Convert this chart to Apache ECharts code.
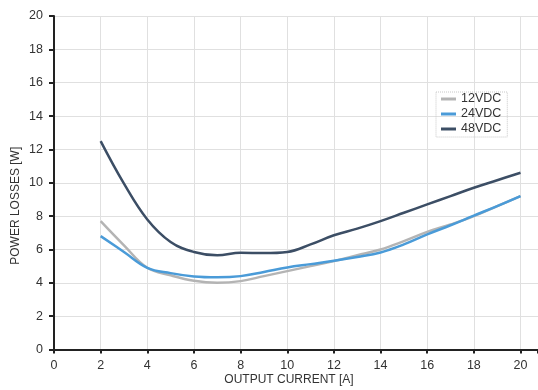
<!DOCTYPE html>
<html>
<head>
<meta charset="utf-8">
<script src="https://cdn.jsdelivr.net/npm/echarts@6/dist/echarts.min.js"></script>
<style>
  html, body { margin: 0; padding: 0; background: #fff; }
  #chart { width: 538px; height: 390px; }
</style>
</head>
<body>
<div id="chart"></div>
<script>
// Output current [A] at which the losses were measured
const current = [2, 3, 4, 5, 6, 7, 8, 9, 10, 11, 12, 13, 14, 15, 16, 17, 18, 19, 20];

// Power losses [W] per input voltage
const loss12 = [7.7, 6.25, 4.9, 4.45, 4.12, 4.0, 4.1, 4.4, 4.7, 5.0, 5.3, 5.65, 6.0, 6.5, 7.05, 7.5, 8.0, 8.6, 9.2];
const loss24 = [6.8, 5.85, 4.9, 4.58, 4.38, 4.33, 4.4, 4.65, 4.92, 5.12, 5.32, 5.55, 5.82, 6.3, 6.9, 7.45, 8.03, 8.6, 9.2];
const loss48 = [12.5, 9.95, 7.8, 6.45, 5.85, 5.65, 5.8, 5.78, 5.85, 6.3, 6.85, 7.25, 7.7, 8.2, 8.7, 9.2, 9.7, 10.15, 10.6];

const seriesNames = ['12VDC', '24VDC', '48VDC'];
const seriesColors = ['#b4b4b4', '#4a9bd8', '#3c4e65'];

const xTicks = [0, 2, 4, 6, 8, 10, 12, 14, 16, 18, 20];
const yTicks = [0, 2, 4, 6, 8, 10, 12, 14, 16, 18, 20];

const pairs = vals => current.map((c, i) => [c, vals[i]]);

const chart = echarts.init(document.getElementById('chart'), null, { renderer: 'canvas' });

const axisTextColor = '#333';
const font = '"Liberation Sans", Arial, sans-serif';

chart.setOption({
  animation: false,
  backgroundColor: '#fff',
  textStyle: { fontFamily: font },
  grid: {
    left: 54, right: 0, top: 16, bottom: 40.5,
    containLabel: false,
    outerBoundsMode: 'none'
  },
  legend: {
    data: seriesNames,
    orient: 'vertical',
    left: 436,
    top: 92,
    icon: 'rect',
    itemWidth: 15,
    itemHeight: 3,
    itemGap: 1,
    padding: [0, 6, 1, 5],
    borderColor: '#c8c8c8',
    borderWidth: 1,
    borderType: 'dotted',
    textStyle: { color: axisTextColor, fontSize: 12.5, fontFamily: font, lineHeight: 14 }
  },
  xAxis: {
    type: 'value',
    min: 0,
    max: 20.75,
    interval: 2,
    name: 'OUTPUT CURRENT [A]',
    nameLocation: 'middle',
    nameGap: 24,
    nameMoveOverlap: false,
    nameTextStyle: { color: axisTextColor, fontSize: 12, fontFamily: font, padding: [0, 14, 0, 0] },
    axisLine: { show: true, onZero: false, lineStyle: { color: '#222', width: 2 } },
    axisTick: { show: true, length: 4, lineStyle: { color: '#222', width: 2 } },
    axisLabel: {
      color: axisTextColor, fontSize: 12.5, fontFamily: font, margin: 10,
      formatter: v => (xTicks.includes(v) ? String(v) : '')
    },
    splitLine: { show: true, lineStyle: { color: '#e0e0e0', width: 1 } }
  },
  yAxis: {
    type: 'value',
    min: 0,
    max: 20,
    interval: 2,
    name: 'POWER LOSSES [W]',
    nameLocation: 'middle',
    nameGap: 32,
    nameMoveOverlap: false,
    nameTextStyle: { color: axisTextColor, fontSize: 12, fontFamily: font, padding: [0, 46, 0, 0] },
    axisLine: { show: true, lineStyle: { color: '#222', width: 2 } },
    axisTick: { show: true, length: 5, lineStyle: { color: '#222', width: 2 } },
    axisLabel: {
      color: axisTextColor, fontSize: 12.5, fontFamily: font, margin: 11,
      formatter: v => (yTicks.includes(v) ? String(v) : '')
    },
    splitLine: { show: true, lineStyle: { color: '#e0e0e0', width: 1 } }
  },
  series: [loss12, loss24, loss48].map((vals, i) => ({
    name: seriesNames[i],
    type: 'line',
    data: pairs(vals),
    smooth: 0.4,
    showSymbol: false,
    symbol: 'none',
    color: seriesColors[i],
    lineStyle: { color: seriesColors[i], width: 2.5 },
    emphasis: { disabled: true },
    z: 2 + i
  }))
});
</script>
</body>
</html>
